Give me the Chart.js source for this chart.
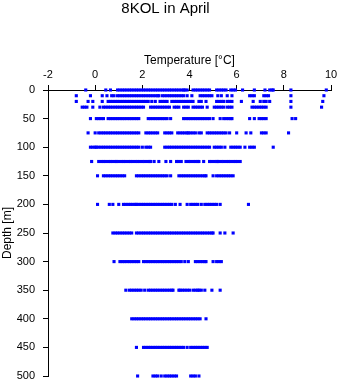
<!DOCTYPE html>
<html>
<head>
<meta charset="utf-8">
<title>8KOL in April</title>
<script src="https://cdn.jsdelivr.net/npm/chart.js@4/dist/chart.umd.min.js"></script>
<style>
    body { margin: 0; background: #fff; }
    #profileChart { display: block; }
</style>
</head>
<body>
<canvas id="profileChart" width="341" height="384"></canvas>
<script>
// Sampled depths [m] and the temperatures [°C] read at each of them
const depth_levels = [0, 10, 20, 30, 50, 75, 100, 125, 150, 200, 250, 300, 350, 400, 450, 500];

const temp_0m = [-0.4, 0.45, 0.65, 0.95, 1.05, 1.15, 1.25, 1.35, 1.45, 1.55, 1.65, 1.75, 1.85, 1.95, 2.05, 2.15, 2.25, 2.35, 2.45, 2.55, 2.65, 2.75, 2.85, 2.95, 3.05, 3.15, 3.25, 3.35, 3.45, 3.55, 3.65, 3.75, 3.8, 3.9, 4.15, 4.25, 4.35, 4.45, 4.55, 4.65, 4.75, 4.85, 5.15, 5.25, 5.35, 5.45, 5.55, 5.75, 5.85, 5.95, 6.25, 6.75, 7.2, 7.4, 7.5, 7.55, 8.3, 9.8];
const temp_10m = [-0.8, -0.2, 0.3, 0.5, 0.7, 0.8, 0.95, 1.05, 1.15, 1.25, 1.35, 1.45, 1.55, 1.65, 1.75, 1.85, 1.95, 2.05, 2.15, 2.25, 2.35, 2.45, 2.55, 2.65, 2.7, 2.85, 2.95, 3.05, 3.15, 3.25, 3.35, 3.45, 3.55, 3.65, 3.75, 3.9, 4.1, 4.45, 4.55, 4.65, 4.75, 4.85, 4.95, 5.2, 5.35, 5.6, 5.8, 6.55, 6.65, 6.75, 7.15, 7.25, 7.35, 8.3, 9.7];
const temp_20m = [-0.8, -0.3, -0.1, 0.3, 0.55, 0.65, 0.75, 0.85, 0.95, 1.05, 1.15, 1.25, 1.35, 1.45, 1.55, 1.65, 1.75, 1.85, 1.95, 2.05, 2.15, 2.25, 2.4, 2.55, 2.75, 2.85, 2.95, 3.05, 3.25, 3.35, 3.45, 3.55, 3.65, 3.75, 3.85, 3.95, 4.05, 4.15, 4.4, 4.5, 4.7, 5.15, 5.25, 5.35, 5.45, 5.6, 5.7, 5.8, 6.2, 6.7, 7.0, 7.15, 7.25, 7.4, 8.3, 9.65];
const temp_30m = [-0.55, -0.45, -0.35, -0.1, 0.2, 0.35, 0.45, 0.55, 0.65, 0.75, 0.85, 0.95, 1.05, 1.15, 1.25, 1.35, 1.45, 1.55, 1.65, 1.75, 1.85, 1.95, 2.05, 2.35, 2.45, 2.55, 2.65, 2.75, 2.85, 2.95, 3.05, 3.15, 3.35, 3.45, 3.55, 3.75, 3.85, 3.95, 4.15, 4.25, 4.35, 4.45, 4.55, 4.75, 5.05, 5.15, 5.25, 5.35, 5.45, 5.6, 5.7, 5.8, 6.65, 6.75, 6.85, 6.95, 7.05, 7.15, 7.25, 8.3, 9.6];
const temp_50m = [-0.2, 0.05, 0.15, 0.25, 0.35, 0.55, 0.65, 0.75, 0.85, 0.95, 1.05, 1.15, 1.25, 1.35, 1.45, 1.55, 1.65, 1.75, 1.85, 2.25, 2.35, 2.45, 2.55, 2.65, 2.75, 2.85, 2.95, 3.05, 3.2, 3.75, 3.85, 3.95, 4.05, 4.15, 4.25, 4.35, 4.45, 4.55, 4.65, 4.75, 4.85, 5.0, 5.3, 5.45, 5.55, 5.65, 5.75, 5.8, 6.55, 6.75, 6.95, 7.05, 7.15, 7.25, 8.35, 8.5];
const temp_75m = [-0.3, 0.0, 0.15, 0.25, 0.35, 0.45, 0.55, 0.65, 0.75, 0.85, 0.95, 1.05, 1.15, 1.25, 1.35, 1.45, 1.55, 1.65, 1.75, 1.85, 2.15, 2.25, 2.35, 2.45, 2.55, 2.65, 2.95, 3.05, 3.15, 3.25, 3.5, 3.6, 3.7, 3.8, 3.9, 3.95, 4.05, 4.15, 4.25, 4.4, 4.5, 4.75, 4.85, 4.95, 5.05, 5.15, 5.25, 5.35, 5.45, 5.55, 5.7, 6.0, 6.4, 6.6, 7.05, 7.15, 7.25, 8.2];
const temp_100m = [-0.2, -0.1, 0.0, 0.05, 0.15, 0.25, 0.35, 0.45, 0.55, 0.65, 0.75, 0.85, 0.95, 1.05, 1.15, 1.25, 1.35, 1.45, 1.55, 1.65, 1.75, 1.85, 2.0, 2.15, 2.25, 2.35, 2.95, 3.05, 3.15, 3.25, 3.35, 3.45, 3.55, 3.65, 3.75, 3.85, 3.95, 4.05, 4.15, 4.25, 4.35, 4.45, 4.55, 4.65, 4.75, 4.85, 5.05, 5.15, 5.25, 5.35, 5.5, 5.75, 5.85, 5.95, 6.05, 6.15, 6.35, 6.55, 6.65, 6.75, 7.55];
const temp_125m = [-0.15, 0.15, 0.25, 0.35, 0.45, 0.55, 0.65, 0.75, 0.85, 0.9, 1.0, 1.1, 1.2, 1.3, 1.4, 1.5, 1.6, 1.7, 1.8, 1.9, 2.0, 2.1, 2.2, 2.3, 2.35, 2.5, 2.7, 3.0, 3.2, 3.45, 3.55, 3.65, 3.85, 3.95, 4.05, 4.15, 4.25, 4.35, 4.4, 4.6, 4.85, 4.95, 5.05, 5.15, 5.2, 5.25, 5.35, 5.45, 5.55, 5.65, 5.75, 5.85, 5.95, 6.05, 6.15];
const temp_150m = [0.1, 0.35, 0.45, 0.55, 0.65, 0.75, 0.85, 0.95, 1.05, 1.15, 1.25, 1.75, 1.85, 1.95, 2.05, 2.15, 2.25, 2.35, 2.45, 2.55, 2.65, 2.75, 2.85, 2.95, 3.05, 3.2, 3.55, 3.65, 3.75, 3.85, 3.95, 4.05, 4.15, 4.25, 4.35, 4.45, 4.55, 4.65, 4.7, 5.0, 5.15, 5.25, 5.35, 5.45, 5.55, 5.65, 5.75, 5.85];
const temp_200m = [0.1, 0.6, 0.75, 1.0, 1.2, 1.3, 1.4, 1.5, 1.6, 1.7, 1.75, 1.85, 1.95, 2.05, 2.15, 2.25, 2.35, 2.45, 2.55, 2.65, 2.75, 2.85, 2.95, 3.05, 3.15, 3.25, 3.4, 3.6, 3.9, 4.05, 4.15, 4.25, 4.35, 4.5, 4.65, 4.75, 4.85, 4.95, 5.05, 5.15, 5.3, 6.5];
const temp_250m = [0.75, 0.85, 0.95, 1.05, 1.15, 1.25, 1.35, 1.45, 1.55, 1.75, 1.85, 1.95, 2.05, 2.15, 2.25, 2.35, 2.45, 2.55, 2.65, 2.75, 2.85, 2.95, 3.05, 3.15, 3.25, 3.35, 3.45, 3.55, 3.65, 3.75, 3.85, 3.95, 4.05, 4.15, 4.25, 4.35, 4.45, 4.55, 4.65, 4.75, 4.85, 4.95, 5.0, 5.3, 5.5, 5.85];
const temp_300m = [0.8, 1.05, 1.15, 1.25, 1.35, 1.45, 1.55, 1.65, 1.75, 1.85, 2.05, 2.15, 2.25, 2.35, 2.45, 2.55, 2.65, 2.75, 2.85, 2.95, 3.05, 3.15, 3.25, 3.35, 3.45, 3.55, 3.65, 3.8, 3.95, 4.25, 4.35, 4.45, 4.55, 4.65, 4.7, 5.0, 5.15, 5.25, 5.35];
const temp_350m = [1.3, 1.45, 1.55, 1.65, 1.75, 1.85, 1.95, 2.1, 2.25, 2.35, 2.45, 2.55, 2.65, 2.75, 2.85, 2.95, 3.05, 3.15, 3.25, 3.3, 3.55, 3.6, 3.7, 3.8, 3.9, 4.0, 4.15, 4.25, 4.35, 4.4, 4.5, 4.65, 4.95, 5.3];
const temp_400m = [1.55, 1.65, 1.75, 1.85, 1.95, 2.05, 2.15, 2.25, 2.35, 2.45, 2.55, 2.65, 2.75, 2.85, 2.95, 3.05, 3.15, 3.25, 3.35, 3.45, 3.55, 3.65, 3.75, 3.85, 3.95, 4.05, 4.15, 4.25, 4.35, 4.45, 4.7];
const temp_450m = [1.75, 2.05, 2.15, 2.25, 2.35, 2.45, 2.55, 2.65, 2.75, 2.85, 2.95, 3.05, 3.15, 3.25, 3.35, 3.45, 3.55, 3.65, 3.75, 3.9, 4.05, 4.15, 4.25, 4.35, 4.45, 4.55, 4.65, 4.75];
const temp_500m = [1.8, 2.45, 2.55, 2.65, 2.8, 2.95, 3.05, 3.15, 3.25, 3.35, 3.45, 4.05, 4.15, 4.25, 4.4];

const temps_by_depth = [
    temp_0m, temp_10m, temp_20m, temp_30m, temp_50m, temp_75m, temp_100m, temp_125m,
    temp_150m, temp_200m, temp_250m, temp_300m, temp_350m, temp_400m, temp_450m, temp_500m
];

// Axis ranges / tick spacing
const temp_min = -2;
const temp_max = 10;
const temp_step = 2;
const depth_min = 0;
const depth_max = 500;
const depth_step = 50;

/**
 * Flatten the per-depth temperature lists into scatter points
 */
function build_profile_points() {
    const points = [];
    depth_levels.forEach((depth, i) => {
        temps_by_depth[i].forEach(t => points.push({ x: t, y: depth }));
    });
    return points;
}

const font_family = '"Liberation Sans", Arial, Helvetica, sans-serif';
const ctx = document.getElementById('profileChart').getContext('2d');

const profile_chart = new Chart(ctx, {
    type: 'scatter',
    data: {
        datasets: [{
            label: 'Temperature',
            data: build_profile_points(),
            pointStyle: 'rect',
            pointRadius: 2.2,
            pointHoverRadius: 2.2,
            borderWidth: 0,
            backgroundColor: '#0000ff',
            clip: false
        }]
    },
    options: {
        responsive: false,
        animation: false,
        events: [],
        layout: {
            padding: { top: 0, left: 0, right: 10, bottom: 8 }
        },
        plugins: {
            legend: { display: false },
            tooltip: { enabled: false },
            title: {
                display: true,
                text: '8KOL in April',
                color: '#000',
                font: { family: font_family, size: 15, weight: 'normal' },
                padding: { top: 0, bottom: 0 }
            }
        },
        scales: {
            x: {
                type: 'linear',
                position: 'top',
                min: temp_min,
                max: temp_max,
                afterFit: function(scale) {
                    // fixed band above the plot; edge labels may overhang
                    scale.height = 72;
                    scale.paddingLeft = 0;
                    scale.paddingRight = 0;
                },
                ticks: {
                    stepSize: temp_step,
                    padding: 3,
                    color: '#000',
                    font: { family: font_family, size: 11 }
                },
                grid: {
                    drawOnChartArea: false,
                    drawTicks: true,
                    tickLength: 5,
                    color: '#000'
                },
                border: { display: true, color: '#000', width: 1 },
                title: {
                    display: true,
                    text: 'Temperature [°C]',
                    color: '#000',
                    font: { family: font_family, size: 12 },
                    padding: { top: 35, bottom: 0 }
                }
            },
            y: {
                type: 'linear',
                reverse: true,
                min: depth_min,
                max: depth_max,
                afterFit: function(scale) {
                    scale.width = 48;
                    scale.paddingTop = 0;
                    scale.paddingBottom = 0;
                },
                ticks: {
                    stepSize: depth_step,
                    padding: 8,
                    color: '#000',
                    font: { family: font_family, size: 11 }
                },
                grid: {
                    drawOnChartArea: false,
                    drawTicks: true,
                    tickLength: 5,
                    color: '#000'
                },
                border: { display: true, color: '#000', width: 1 },
                title: {
                    display: true,
                    text: 'Depth [m]',
                    color: '#000',
                    font: { family: font_family, size: 12 },
                    padding: { top: 0, bottom: 0 }
                }
            }
        }
    }
});
</script>
</body>
</html>
